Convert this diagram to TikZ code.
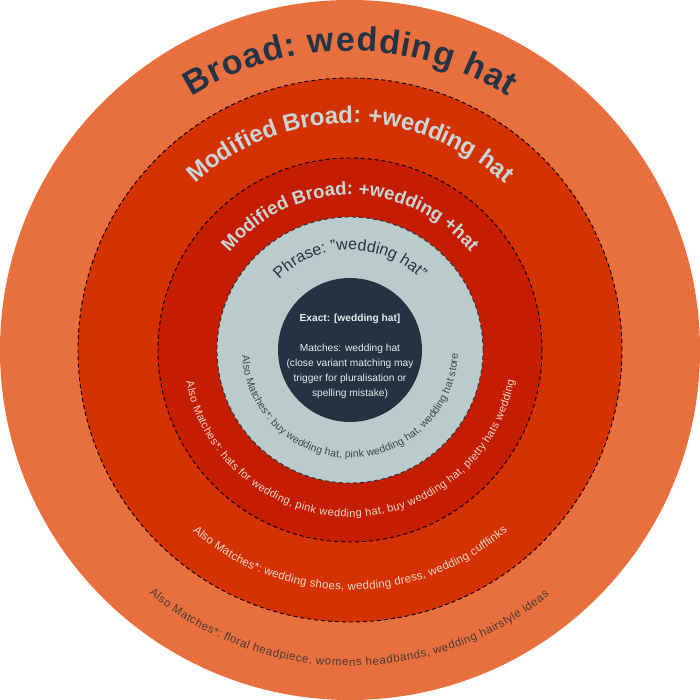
\documentclass[tikz,border=0pt]{standalone}
\usepackage{fontspec}
\setmainfont{Liberation Sans}
\usetikzlibrary{decorations.text}
\definecolor{ringA}{HTML}{E8703F}
\definecolor{ringB}{HTML}{D43200}
\definecolor{ringC}{HTML}{C41D00}
\definecolor{ringD}{HTML}{B9CBCA}
\definecolor{core}{HTML}{233342}
\definecolor{darktxt}{HTML}{243444}
\definecolor{lighttxt}{HTML}{C8D6D6}
\definecolor{paletxt}{HTML}{EAD6D0}
\definecolor{browntxt}{HTML}{4A3A36}
\definecolor{graytxt}{HTML}{3C4A50}
\definecolor{coretxt}{HTML}{E6ECEC}
\begin{document}
\begin{tikzpicture}[x=1pt,y=1pt,
  ringline/.style={line width=0.9pt, dash pattern=on 4pt off 3pt},
  fxlabel/.style 2 args={decorate, decoration={text effects along path,
     text effects/.cd, text along path, fit text to path,
     characters={text=#1, font=#2, inner sep=0pt}}}]
\useasboundingbox (0,0) rectangle (700,700);
\coordinate (c) at (350,350);
% rings
\fill[ringA] (c) circle[radius=350];
\fill[ringB] (c) circle[radius=272];
\draw[ringline, black] (c) circle[radius=272];
\fill[ringC] (c) circle[radius=192];
\draw[ringline, black] (c) circle[radius=192];
\fill[ringD] (c) circle[radius=133];
\draw[ringline, core] (c) circle[radius=133];
\fill[core] (c) circle[radius=72];
% top labels
\path[fxlabel={darktxt}{\fontsize{34}{40}\selectfont\bfseries}, decoration={text={Broad: wedding hat}}]
  (c) ++(122:299) arc[start angle=122, end angle=58, radius=299];
\path[fxlabel={lighttxt}{\fontsize{24}{28}\selectfont\bfseries}, decoration={text={Modified Broad: +wedding hat}}]
  (c) ++(133:227) arc[start angle=133, end angle=47, radius=227];
\path[fxlabel={lighttxt}{\fontsize{18.5}{22}\selectfont\bfseries}, decoration={text={Modified Broad: +wedding +hat}}]
  (c) ++(141:155) arc[start angle=141, end angle=39, radius=155];
\path[fxlabel={darktxt}{\fontsize{16}{19}\selectfont}, decoration={text={Phrase: "wedding hat"}}]
  (c) ++(135:100) arc[start angle=135, end angle=45, radius=100];
% bottom labels
\path[fxlabel={graytxt}{\fontsize{10.5}{12}\selectfont}, decoration={text={Also Matches*: buy wedding hat, pink wedding hat, wedding hat store}}]
  (c) ++(183:108) arc[start angle=183, end angle=358, radius=108];
\path[fxlabel={paletxt}{\fontsize{11}{13}\selectfont}, decoration={text={Also Matches*: hats for wedding, pink wedding hat, buy wedding hat, pretty hats wedding}}]
  (c) ++(191:167) arc[start angle=191, end angle=349.5, radius=167];
\path[fxlabel={paletxt}{\fontsize{11.5}{13}\selectfont}, decoration={text={Also Matches*: wedding shoes, wedding dress, wedding cufflinks}}]
  (c) ++(229:240) arc[start angle=229, end angle=311, radius=240];
\path[fxlabel={browntxt}{\fontsize{11.5}{13}\selectfont}, decoration={text={Also Matches*: floral headpiece, womens headbands, wedding hairstyle ideas}}]
  (c) ++(230.5:316) arc[start angle=230.5, end angle=309, radius=316];
% core text
\node (exact) [text=coretxt, align=center, inner sep=0pt, font=\fontsize{10.2}{15}\selectfont]
  at (350,344) {\textbf{Exact: [wedding hat]}\\[15pt]Matches: wedding hat\\(close variant matching may\\trigger for pluralisation or\\spelling mistake)};
\end{tikzpicture}
\end{document}
